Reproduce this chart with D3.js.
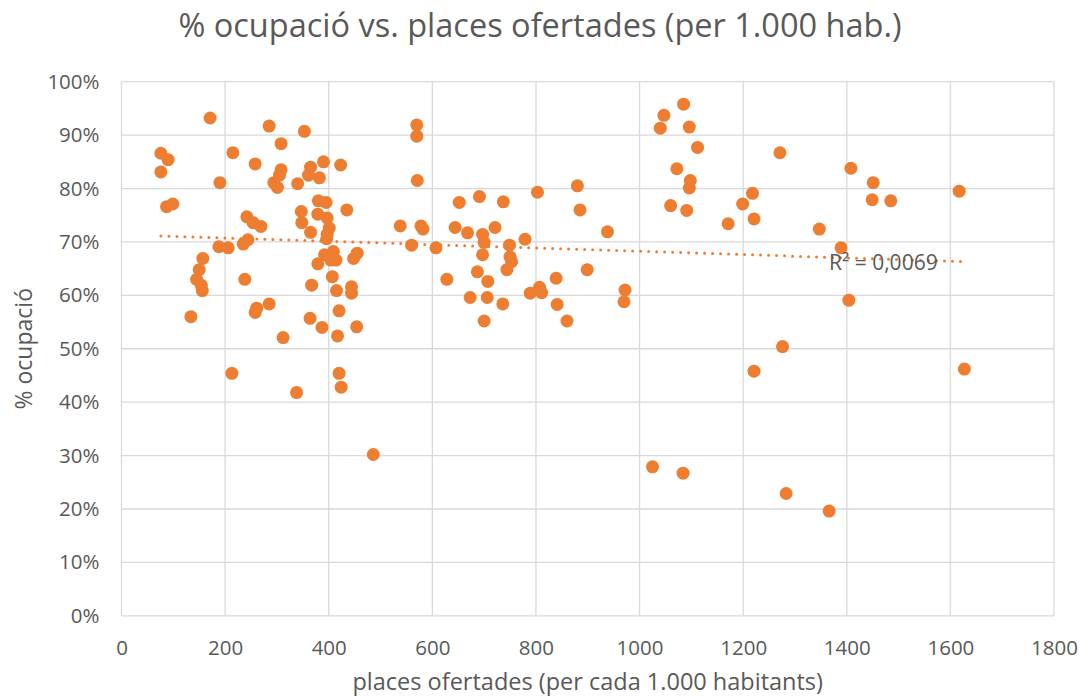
<!DOCTYPE html>
<html>
<head>
<meta charset="utf-8">
<script src="https://cdn.jsdelivr.net/npm/d3@7"></script>
<style>
  html, body { margin: 0; padding: 0; background: #fff; }
  body { width: 1081px; height: 697px; overflow: hidden; font-family: "Open Sans", sans-serif; }
  .grid line { stroke: #d9d9d9; stroke-width: 1.3; }
  .tick text { fill: #595959; font-size: 20.5px; }
</style>
</head>
<body>
<div id="chart"></div>
<script>
// --- データ ---
const places = [
  171, 285, 353, 308, 76, 90, 76, 215, 258, 308, 305, 365, 361, 390, 382, 423,
  190, 294, 301, 340, 87, 99, 380, 395, 435, 347, 379, 397, 242, 254, 269, 348,
  401, 365, 397, 396, 538, 188, 206, 235, 244, 157, 150, 145, 154, 156, 238, 392,
  409, 404, 414, 379, 448, 455, 407, 367, 415, 444, 444, 134, 258, 261, 285, 364,
  387, 420, 312, 417, 454, 213, 420, 424, 338, 570, 570, 571, 578, 582, 644, 668,
  697, 700, 721, 652, 691, 737, 560, 607, 697, 749, 744, 687, 707, 628, 673, 706,
  736, 700, 486, 803, 880, 885, 938, 779, 750, 753, 839, 899, 807, 789, 811, 841,
  860, 972, 970, 1085, 1047, 1040, 1096, 1112, 1072, 1098, 1096, 1060, 1091, 1171,
  1199, 1218, 1221, 1271, 1408, 1451, 1449, 1485, 1617, 1347, 1389, 1404, 1276,
  1221, 1627, 1025, 1084, 1283, 1366
];
const ocupacio = [
  93.2, 91.7, 90.7, 88.4, 86.6, 85.4, 83.1, 86.7, 84.6, 83.5, 82.5, 84.0, 82.5, 85.0, 82.0, 84.4,
  81.1, 81.1, 80.2, 80.9, 76.6, 77.1, 77.7, 77.4, 76.0, 75.7, 75.2, 74.5, 74.7, 73.6, 72.9, 73.6,
  72.6, 71.8, 71.4, 70.6, 73.0, 69.1, 68.9, 69.6, 70.4, 66.9, 64.8, 63.0, 61.9, 60.9, 63.0, 67.6,
  68.2, 66.6, 66.6, 65.9, 66.9, 67.9, 63.5, 61.9, 60.9, 61.6, 60.4, 56.0, 56.8, 57.6, 58.4, 55.7,
  54.0, 57.1, 52.1, 52.4, 54.1, 45.4, 45.4, 42.8, 41.8, 91.9, 89.8, 81.5, 73.0, 72.4, 72.7, 71.7,
  71.4, 69.9, 72.7, 77.4, 78.5, 77.5, 69.4, 68.9, 67.6, 69.4, 64.8, 64.4, 62.6, 63.0, 59.6, 59.6,
  58.4, 55.2, 30.2, 79.3, 80.5, 76.0, 71.9, 70.5, 67.2, 66.3, 63.2, 64.8, 61.5, 60.4, 60.5, 58.3,
  55.2, 61.0, 58.8, 95.8, 93.7, 91.3, 91.5, 87.7, 83.7, 81.5, 80.1, 76.8, 75.9, 73.4,
  77.1, 79.1, 74.3, 86.7, 83.8, 81.1, 77.9, 77.7, 79.5, 72.4, 68.9, 59.1, 50.4,
  45.8, 46.2, 27.9, 26.7, 22.9, 19.6
];
const xTicks = [0, 200, 400, 600, 800, 1000, 1200, 1400, 1600, 1800];
const yTicks = [0, 10, 20, 30, 40, 50, 60, 70, 80, 90, 100];
const r2Label = "R² = 0,0069";

const W = 1081, H = 697;
const margin = { top: 81.7, right: 27, bottom: 81.2, left: 121.5 };
const color = "#ED7D31";
const textColor = "#595959";

const svg = d3.select("#chart").append("svg")
  .attr("width", W).attr("height", H);

const x = d3.scaleLinear().domain([0, 1800]).range([margin.left, W - margin.right]);
const y = d3.scaleLinear().domain([0, 100]).range([H - margin.bottom, margin.top]);

// グリッド
svg.append("g").attr("class", "grid")
  .selectAll("line").data(yTicks).enter().append("line")
  .attr("x1", x(0)).attr("x2", x(1800))
  .attr("y1", d => y(d)).attr("y2", d => y(d));
svg.append("g").attr("class", "grid")
  .selectAll("line").data(xTicks).enter().append("line")
  .attr("y1", y(0)).attr("y2", y(100))
  .attr("x1", d => x(d)).attr("x2", d => x(d));

// 軸ラベル
const xAxis = svg.append("g")
  .attr("transform", `translate(0,${y(0)})`)
  .call(d3.axisBottom(x).tickValues(xTicks).tickSize(0).tickFormat(d3.format("d")));
xAxis.select(".domain").remove();
xAxis.selectAll(".tick text").attr("y", 39).attr("dy", null);

const yAxis = svg.append("g")
  .attr("transform", `translate(${x(0)},0)`)
  .call(d3.axisLeft(y).tickValues(yTicks).tickSize(0).tickPadding(22).tickFormat(d => d + "%"));
yAxis.select(".domain").remove();
svg.selectAll(".tick text").attr("font-family", "Open Sans, sans-serif");

// 散布点
const pts = places.map((p, i) => ({ x: p, y: ocupacio[i] }));
svg.append("g").selectAll("circle")
  .data(pts).enter().append("circle")
  .attr("cx", d => x(d.x)).attr("cy", d => y(d.y))
  .attr("r", 6.5)
  .attr("fill", color);

// 線形トレンドライン（最小二乗）
const mx = d3.mean(pts, d => d.x), my = d3.mean(pts, d => d.y);
const slope = d3.sum(pts, d => (d.x - mx) * (d.y - my)) / d3.sum(pts, d => (d.x - mx) ** 2);
const icpt = my - slope * mx;
const [x0, x1] = d3.extent(pts, d => d.x);
svg.append("line")
  .attr("x1", x(x0)).attr("y1", y(icpt + slope * x0))
  .attr("x2", x(x1)).attr("y2", y(icpt + slope * x1))
  .attr("stroke", color).attr("stroke-width", 3)
  .attr("stroke-linecap", "round").attr("stroke-dasharray", "0,8");

svg.append("text")
  .attr("x", 829).attr("y", 270)
  .attr("fill", textColor).attr("font-size", 21)
  .text(r2Label);

// タイトル
svg.append("text")
  .attr("x", 540).attr("y", 37)
  .attr("text-anchor", "middle")
  .attr("fill", textColor).attr("font-size", 32.5)
  .text("% ocupació vs. places ofertades (per 1.000 hab.)");

svg.append("text")
  .attr("x", (x(0) + x(1800)) / 2).attr("y", 690)
  .attr("text-anchor", "middle")
  .attr("fill", textColor).attr("font-size", 23.5)
  .text("places ofertades (per cada 1.000 habitants)");

svg.append("text")
  .attr("transform", `translate(32,${(y(0) + y(100)) / 2}) rotate(-90)`)
  .attr("text-anchor", "middle")
  .attr("fill", textColor).attr("font-size", 23)
  .text("% ocupació");
</script>
</body>
</html>
